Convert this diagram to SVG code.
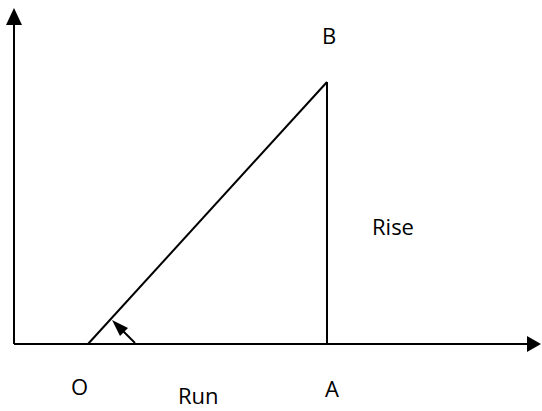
<svg xmlns="http://www.w3.org/2000/svg" width="542" height="411" viewBox="0 0 542 411">
<style>
.ln{stroke:#000;stroke-width:2;fill:none}
.t{font-family:"Open Sans","Liberation Sans",sans-serif;font-size:22px;fill:#000}
</style>
<rect width="542" height="411" fill="#fff"/>
<g id="connectors">
<line class="ln" x1="14" y1="344" x2="14" y2="20"/>
<path d="M14,8 L6,25 L22,25 Z" fill="#000"/>
<line class="ln" x1="14" y1="344" x2="530" y2="344"/>
<path d="M541,344 L527,336 L527,352 Z" fill="#000"/>
<line class="ln" x1="88" y1="344" x2="327" y2="82"/>
<line class="ln" x1="327" y1="82" x2="327" y2="344"/>
<line class="ln" x1="135" y1="343" x2="122" y2="330"/>
<path d="M112,320 L128,328 L120,336 Z" fill="#000"/>
</g>
<g id="B"><text class="t" x="322" y="44">B</text></g>
<g id="Rise"><text class="t" x="372" y="235">Rise</text></g>
<g id="O"><text class="t" x="71" y="395">O</text></g>
<g id="Run"><text class="t" x="178" y="404">Run</text></g>
<g id="A"><text class="t" x="325" y="397">A</text></g>
</svg>
